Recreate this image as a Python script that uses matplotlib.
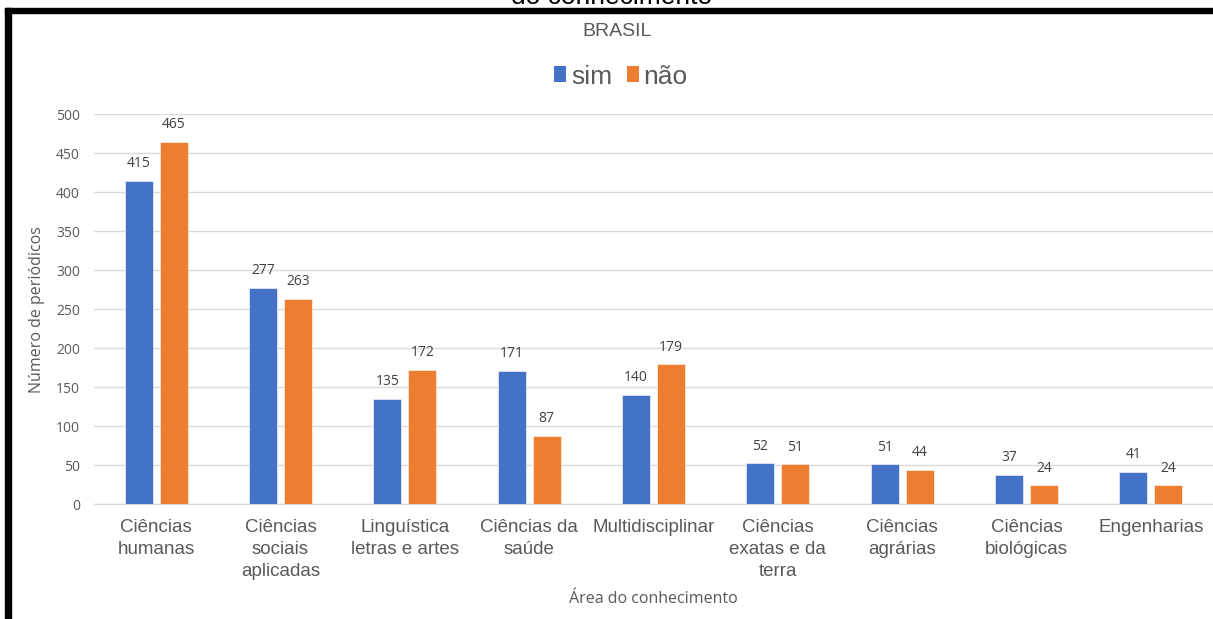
import matplotlib
matplotlib.use("Agg")
import matplotlib.pyplot as plt
from matplotlib.patches import Patch, Rectangle
import numpy as np

categories = [
    "Ciências\nhumanas",
    "Ciências\nsociais\naplicadas",
    "Linguística\nletras e artes",
    "Ciências da\nsaúde",
    "Multidisciplinar",
    "Ciências\nexatas e da\nterra",
    "Ciências\nagrárias",
    "Ciências\nbiológicas",
    "Engenharias",
]
sim = [415, 277, 135, 171, 140, 52, 51, 37, 41]
nao = [465, 263, 172, 87, 179, 51, 44, 24, 24]
y_ticks = [0, 50, 100, 150, 200, 250, 300, 350, 400, 450, 500]

BLUE = "#4472C4"
ORANGE = "#ED7D31"
GRAY_TXT = "#595959"
LABEL_TXT = "#404040"
GRID = "#d9d9d9"

W, H, DPI = 1213, 619, 100
fig = plt.figure(figsize=(W / DPI, H / DPI), dpi=DPI)
fig.patch.set_facecolor("white")

def fx(px):
    return px / W

def fy(py):
    return 1 - py / H

ax = fig.add_axes([fx(94), fy(504), fx(1213) - fx(94), fy(114.3) - fy(504)])

x = np.arange(len(categories))
bw = 0.225
off = 0.1407
b1 = ax.bar(x - off, sim, bw, color=BLUE, edgecolor="white", linewidth=0.4, zorder=3)
b2 = ax.bar(x + off, nao, bw, color=ORANGE, edgecolor="white", linewidth=0.4, zorder=3)

for bars, vals in ((b1, sim), (b2, nao)):
    for rect, v in zip(bars, vals):
        ax.annotate(str(v), (rect.get_x() + rect.get_width() / 2, v),
                    xytext=(0, 7), textcoords="offset points",
                    ha="center", va="bottom", fontsize=10,
                    family="Open Sans", color=LABEL_TXT)

ax.set_xlim(-0.5, len(categories) - 0.5)
ax.set_ylim(0, 500)
ax.set_yticks(y_ticks)
ax.set_yticklabels([str(t) for t in y_ticks], family="Open Sans",
                   fontsize=10, color=GRAY_TXT)
ax.set_xticks(x)
ax.set_xticklabels(categories, family="Liberation Sans", fontsize=13.5,
                   color=GRAY_TXT, linespacing=1.4)
ax.tick_params(axis="both", length=0)
ax.tick_params(axis="y", pad=10)
ax.tick_params(axis="x", pad=10.5)

ax.yaxis.grid(True, color=GRID, linewidth=1.0, zorder=0)
ax.set_axisbelow(True)
for s in ("top", "right", "left"):
    ax.spines[s].set_visible(False)
ax.spines["bottom"].set_color(GRID)
ax.spines["bottom"].set_linewidth(1.0)

fig.text(fx(37), fy(310), "Número de periódicos", family="Open Sans",
         fontsize=11.5, color=GRAY_TXT, ha="center", va="center", rotation=90)
fig.text(fx(653), fy(599), "Área do conhecimento", family="Open Sans",
         fontsize=11.5, color=GRAY_TXT, ha="center", va="center")

fig.text(fx(617), fy(31.5), "BRASIL", family="Liberation Sans", fontsize=14,
         color=GRAY_TXT, ha="center", va="center")

handles = [Patch(facecolor=BLUE, label="sim"), Patch(facecolor=ORANGE, label="não")]
fig.legend(handles=handles, loc="center", bbox_to_anchor=(fx(621), fy(76.5)),
           ncol=2, frameon=False, prop={"family": "Liberation Sans", "size": 19},
           handlelength=0.45, handleheight=0.55, handletextpad=0.18,
           columnspacing=0.55, labelcolor=GRAY_TXT, borderpad=0.1)

# partially visible heading above the frame
fig.text(fx(612), fy(4), "do conhecimento", family="Liberation Sans",
         fontsize=19, color="black", ha="center", va="baseline")

# black frame along the top and left edges
fig.patches.append(Rectangle((fx(5), fy(13)), 1 - fx(5), fy(8) - fy(13),
                             transform=fig.transFigure, color="black", zorder=10))
fig.patches.append(Rectangle((fx(5), 0), fx(11) - fx(5), fy(8),
                             transform=fig.transFigure, color="black", zorder=10))

fig.savefig("out.png", dpi=DPI, facecolor="white")
